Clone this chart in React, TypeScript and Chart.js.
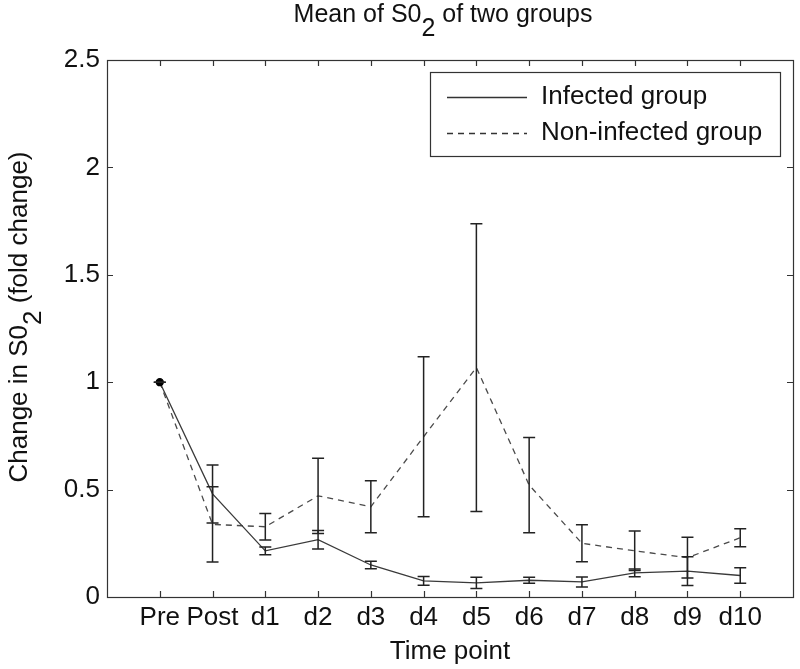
import React, { useEffect, useRef } from 'react';
import { Chart, registerables } from 'chart.js';

Chart.register(...registerables);

const timeLabels = ['Pre', 'Post', 'd1', 'd2', 'd3', 'd4', 'd5', 'd6', 'd7', 'd8', 'd9', 'd10'];
const infectedMean = [1.0, 0.48, 0.215, 0.267, 0.149, 0.075, 0.066, 0.078, 0.07, 0.112, 0.12, 0.1];
const infectedErr = [0, 0.135, 0.018, 0.043, 0.018, 0.02, 0.026, 0.014, 0.023, 0.018, 0.067, 0.036];
const nonInfectedMean = [1.0, 0.338, 0.327, 0.471, 0.42, 0.746, 1.068, 0.521, 0.25, 0.215, 0.183, 0.276];
const nonInfectedErr = [0, 0.175, 0.062, 0.175, 0.121, 0.372, 0.67, 0.222, 0.086, 0.092, 0.095, 0.042];
const yTickValues = [0, 0.5, 1, 1.5, 2, 2.5];

const FONT = '"Liberation Sans", Arial, Helvetica, sans-serif';

type Part = [string, boolean];

function drawParts(ctx: CanvasRenderingContext2D, parts: Part[], cx: number, cy: number, size: number) {
  let total = 0;
  ctx.font = `${size}px ${FONT}`;
  const widths = parts.map(([t]) => {
    const w = ctx.measureText(t).width;
    total += w;
    return w;
  });
  let x = cx - total / 2;
  ctx.textBaseline = 'middle';
  ctx.textAlign = 'left';
  parts.forEach(([t, sub], i) => {
    ctx.fillText(t, x, sub ? cy + size * 0.55 : cy);
    x += widths[i];
  });
}

const errorBarPlugin = {
  id: 'errorBars',
  afterDatasetsDraw(chart: any) {
    const ctx = chart.ctx;
    const xs = chart.scales.x;
    const ys = chart.scales.y;
    const sets: [number[], number[]][] = [
      [infectedMean, infectedErr],
      [nonInfectedMean, nonInfectedErr],
    ];
    ctx.save();
    ctx.strokeStyle = '#222';
    ctx.lineWidth = 1.5;
    sets.forEach(([m, e]) => {
      m.forEach((v, i) => {
        const px = xs.getPixelForValue(i + 1);
        const yt = ys.getPixelForValue(v + e[i]);
        const yb = ys.getPixelForValue(v - e[i]);
        ctx.beginPath();
        ctx.moveTo(px, yt);
        ctx.lineTo(px, yb);
        ctx.moveTo(px - 6, yt);
        ctx.lineTo(px + 6, yt);
        ctx.moveTo(px - 6, yb);
        ctx.lineTo(px + 6, yb);
        ctx.stroke();
      });
    });
    ctx.restore();
  },
};

const framePlugin = {
  id: 'frameAndText',
  afterDraw(chart: any) {
    const ctx = chart.ctx as CanvasRenderingContext2D;
    const a = chart.chartArea;
    const xs = chart.scales.x;
    const ys = chart.scales.y;
    ctx.save();
    ctx.strokeStyle = '#333';
    ctx.lineWidth = 1.2;
    ctx.strokeRect(Math.round(a.left) + 0.5, Math.round(a.top) + 0.5, Math.round(a.right - a.left), Math.round(a.bottom - a.top));
    ctx.beginPath();
    for (let i = 1; i <= timeLabels.length; i++) {
      const px = Math.round(xs.getPixelForValue(i)) + 0.5;
      ctx.moveTo(px, a.bottom);
      ctx.lineTo(px, a.bottom - 6);
      ctx.moveTo(px, a.top);
      ctx.lineTo(px, a.top + 6);
    }
    yTickValues.forEach((v) => {
      const py = Math.round(ys.getPixelForValue(v)) + 0.5;
      ctx.moveTo(a.left, py);
      ctx.lineTo(a.left + 6, py);
      ctx.moveTo(a.right, py);
      ctx.lineTo(a.right - 6, py);
    });
    ctx.stroke();

    ctx.fillStyle = '#111';
    drawParts(ctx, [['Mean of S0', false], ['2', true], [' of two groups', false]], 443, 15, 25);
    drawParts(ctx, [['Time point', false]], (a.left + a.right) / 2, 652, 26);
    ctx.save();
    ctx.translate(20, 317);
    ctx.rotate(-Math.PI / 2);
    drawParts(ctx, [['Change in S0', false], ['2', true], [' (fold change)', false]], 0, 0, 26);
    ctx.restore();

    // legend
    ctx.fillStyle = '#fff';
    ctx.fillRect(430, 72, 350, 84);
    ctx.strokeStyle = '#333';
    ctx.lineWidth = 1.2;
    ctx.strokeRect(430.5, 72.5, 350, 84);
    ctx.lineWidth = 1.3;
    ctx.beginPath();
    ctx.moveTo(447, 97.5);
    ctx.lineTo(527, 97.5);
    ctx.stroke();
    ctx.setLineDash([6, 5]);
    ctx.beginPath();
    ctx.moveTo(447, 133.5);
    ctx.lineTo(527, 133.5);
    ctx.stroke();
    ctx.setLineDash([]);
    ctx.fillStyle = '#111';
    ctx.font = `26px ${FONT}`;
    ctx.textAlign = 'left';
    ctx.textBaseline = 'middle';
    ctx.fillText('Infected group', 541, 97);
    ctx.fillText('Non-infected group', 541, 133);
    ctx.restore();
  },
};

export default function App() {
  const ref = useRef<HTMLCanvasElement>(null);
  useEffect(() => {
    const canvas = ref.current!;
    const chart = new Chart(canvas, {
      type: 'line',
      data: {
        datasets: [
          {
            label: 'Infected group',
            data: infectedMean.map((v, i) => ({ x: i + 1, y: v })),
            borderColor: '#3a3a3a',
            borderWidth: 1.3,
            pointRadius: infectedMean.map((_, i) => (i === 0 ? 3.5 : 0)),
            pointBackgroundColor: '#000',
            pointBorderColor: '#000',
            fill: false,
            tension: 0,
          },
          {
            label: 'Non-infected group',
            data: nonInfectedMean.map((v, i) => ({ x: i + 1, y: v })),
            borderColor: '#4a4a4a',
            borderWidth: 1.3,
            borderDash: [6, 5],
            pointRadius: 0,
            fill: false,
            tension: 0,
          },
        ],
      },
      options: {
        responsive: false,
        animation: false,
        devicePixelRatio: 1,
        layout: { padding: { top: 60, right: 7, left: 0, bottom: 0 } },
        plugins: {
          legend: { display: false },
          title: { display: false },
          tooltip: { enabled: false },
        },
        scales: {
          x: {
            type: 'linear',
            min: 0,
            max: 13,
            grid: { display: false, drawTicks: false },
            border: { display: false },
            afterFit: (s: any) => {
              s.height = 72;
            },
            ticks: {
              stepSize: 1,
              autoSkip: false,
              maxRotation: 0,
              padding: 5,
              color: '#111',
              font: { family: FONT, size: 26 },
              callback: (v: any) => {
                const i = Number(v);
                return i >= 1 && i <= timeLabels.length ? timeLabels[i - 1] : '';
              },
            },
          },
          y: {
            type: 'linear',
            min: 0,
            max: 2.5,
            grid: { display: false, drawTicks: false },
            border: { display: false },
            afterFit: (s: any) => {
              s.width = 107;
            },
            ticks: {
              stepSize: 0.5,
              padding: 7,
              color: '#111',
              font: { family: FONT, size: 26 },
              callback: (v: any) => String(Number(v)),
            },
          },
        },
      },
      plugins: [errorBarPlugin, framePlugin],
    } as any);
    return () => chart.destroy();
  }, []);
  return (
    <div style={{ position: 'fixed', left: 0, top: 0, width: 800, height: 669, background: '#fff' }}>
      <canvas ref={ref} width={800} height={669} style={{ display: 'block', width: 800, height: 669 }} />
    </div>
  );
}
